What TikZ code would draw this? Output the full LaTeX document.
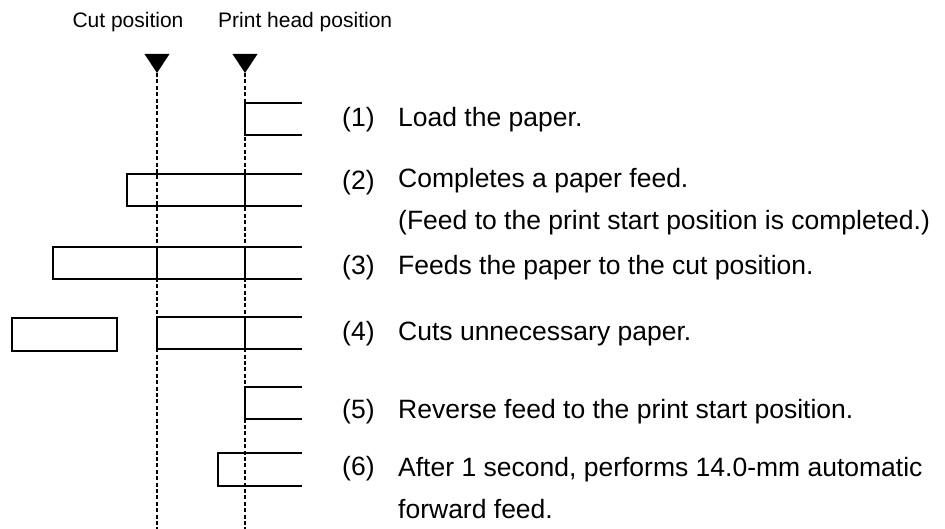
\documentclass[tikz,border=0pt]{standalone}
\usepackage{fontspec}
\setmainfont{Liberation Sans}
\usepackage{tikz}
\usetikzlibrary{positioning}

\begin{document}
\begin{tikzpicture}[x=1pt, y=-1pt,
  paper/.style={line width=1.7pt, line join=miter},
  guide/.style={line width=1.3pt, dash pattern=on 4pt off 2.4pt},
  marker/.style={fill=black},
  poslabel/.style={anchor=base, inner sep=0pt, font=\fontsize{21}{25}\selectfont},
  stepnum/.style={anchor=base west, inner sep=0pt, font=\fontsize{26.5}{42}\selectfont},
  steptext/.style={anchor=base west, inner sep=0pt, align=left,
                   font=\fontsize{26.5}{42}\selectfont}
]
\useasboundingbox (0,0) rectangle (945,529);

% position marks
\node[poslabel] (cutlabel) at (128,28) {Cut position};
\node[poslabel, anchor=base west] (headlabel) at (218,28) {Print head position};

\coordinate (cuttip)  at (157,73);
\coordinate (headtip) at (245,73);
\coordinate (cutend)  at (157,529);
\coordinate (headend) at (245,529);

\fill[marker] (144.5,54) -- (169.5,54) -- (cuttip) -- cycle;
\fill[marker] (232.5,54) -- (257.5,54) -- (headtip) -- cycle;

\draw[guide] (cuttip)  -- (cutend);
\draw[guide] (headtip) -- (headend);

% (1)
\draw[paper] (302,103) -- (245,103) -- (245,135) -- (302,135);
% (2)
\draw[paper] (302,174) -- (127,174) -- (127,206) -- (302,206);
\draw[paper] (245,174) -- (245,206);
% (3)
\draw[paper] (302,247) -- (53,247) -- (53,279) -- (302,279);
\draw[paper] (157,247) -- (157,279);
\draw[paper] (245,247) -- (245,279);
% (4)
\draw[paper] (12,318) rectangle (117,351);
\draw[paper] (302,317) -- (157,317) -- (157,349) -- (302,349);
\draw[paper] (245,317) -- (245,349);
% (5)
\draw[paper] (302,387) -- (245,387) -- (245,419) -- (302,419);
% (6)
\draw[paper] (302,453) -- (218,453) -- (218,486) -- (302,486);

% steps (two-line texts sit on their last baseline)
\node[stepnum]  (n1) at (342,127) {(1)};
\node[steptext] (t1) at (398,127) {Load the paper.};
\node[stepnum]  (n2) at (342,190) {(2)};
\node[steptext] (t2) at (398,230) {Completes a paper feed.\\(Feed to the print start position is completed.)};
\node[stepnum]  (n3) at (342,275) {(3)};
\node[steptext] (t3) at (398,275) {Feeds the paper to the cut position.};
\node[stepnum]  (n4) at (342,341) {(4)};
\node[steptext] (t4) at (398,341) {Cuts unnecessary paper.};
\node[stepnum]  (n5) at (342,418) {(5)};
\node[steptext] (t5) at (398,418) {Reverse feed to the print start position.};
\node[stepnum]  (n6) at (342,475) {(6)};
\node[steptext] (t6) at (398,518) {After 1 second, performs 14.0-mm automatic\\forward feed.};
\end{tikzpicture}
\end{document}
